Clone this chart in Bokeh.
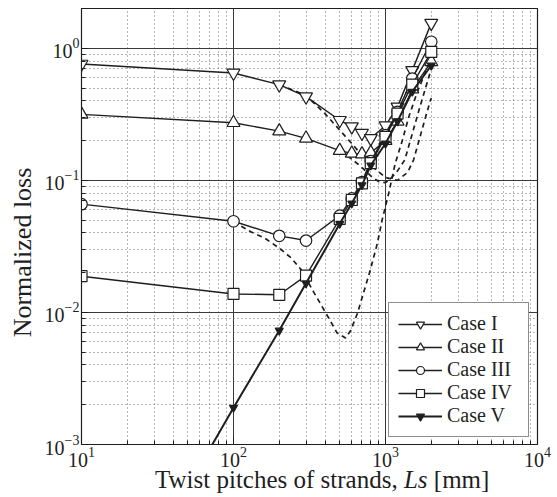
from bokeh.plotting import figure
from bokeh.models import Legend, LegendItem, FixedTicker, Div
from bokeh.layouts import column
from bokeh.embed import file_html
from bokeh.resources import INLINE

# ---- data ----
ls_mm = [10, 100, 200, 300, 500, 600, 700, 800, 1000, 1200, 1500, 2000]
case1 = [0.76, 0.65, 0.53, 0.43, 0.285, 0.255, 0.228, 0.208, 0.26, 0.36, 0.68, 1.55]
case2 = [0.316, 0.273, 0.236, 0.208, 0.168, 0.160, 0.158, 0.162, 0.20, 0.28, 0.49, 0.79]
case3 = [0.066, 0.049, 0.038, 0.035, 0.054, 0.073, 0.097, 0.14, 0.22, 0.33, 0.59, 1.12]
case4 = [0.0188, 0.0138, 0.0136, 0.019, 0.051, 0.071, 0.095, 0.135, 0.213, 0.32, 0.53, 0.94]
case5 = [1.9e-5, 0.0019, 0.0073, 0.0166, 0.047, 0.067, 0.092, 0.13, 0.19, 0.28, 0.47, 0.74]

dash1_x = [200, 300, 400, 500, 600, 700, 800, 1000, 1200, 1400, 1530, 1700, 1890, 2000]
dash1_y = [0.53, 0.44, 0.32, 0.24, 0.19, 0.155, 0.13, 0.105, 0.10, 0.115, 0.143, 0.22, 0.34, 0.42]
dash2_x = [500, 600, 700, 800, 900, 1000, 1100, 1200, 1340, 1500, 1660, 2000]
dash2_y = [0.165, 0.145, 0.125, 0.108, 0.098, 0.096, 0.105, 0.118, 0.143, 0.225, 0.34, 0.70]
dash3_x = [100, 130, 160, 200, 240, 280, 340, 420, 480, 546, 590, 655, 716, 794, 885, 950,
           1050, 1160, 1290, 1420, 1600, 2000]
dash3_y = [0.0486, 0.0408, 0.0366, 0.0307, 0.0258, 0.0209, 0.014, 0.0092, 0.007, 0.0064,
           0.0073, 0.0099, 0.014, 0.0209, 0.0335, 0.05, 0.08, 0.135, 0.2, 0.3, 0.45, 0.85]

labels = ["Case I", "Case II", "Case III", "Case IV", "Case V"]
x_title_plain = "Twist pitches of strands,"
x_title_italic = "Ls"
x_title_unit = "[mm]"
y_title = "Normalized loss"

x_major = [10, 100, 1000, 10000]
x_minor = [m * d for d in (10, 100, 1000) for m in range(2, 10)]
y_major = [0.001, 0.01, 0.1, 1.0]
y_minor = [m * d for d in (0.001, 0.01, 0.1, 1.0) for m in range(2, 10)]

SERIF = "Liberation Serif"
INK = "#1e1e1e"

p = figure(width=556, height=471,
           min_border_left=81, min_border_right=19, min_border_top=8, min_border_bottom=27,
           x_axis_type="log", y_axis_type="log",
           x_range=(10, 1e4), y_range=(1e-3, 2.0),
           output_backend="svg", toolbar_location=None)

p.outline_line_color = INK
p.outline_line_width = 1.2
p.background_fill_color = "white"
p.border_fill_color = "white"

for ax, maj, mnr in ((p.xaxis[0], x_major, x_minor), (p.yaxis[0], y_major, y_minor)):
    ax.ticker = FixedTicker(ticks=maj, minor_ticks=mnr)
    ax.major_label_text_font = SERIF
    ax.major_label_text_font_size = "20px"
    ax.major_label_text_color = INK
    ax.axis_line_color = INK
    ax.major_tick_in = 7
    ax.major_tick_out = 0
    ax.minor_tick_in = 4
    ax.minor_tick_out = 0
    ax.major_tick_line_color = INK
    ax.minor_tick_line_color = INK
    ax.major_label_standoff = 2

# trailing no-break spaces shift the rotated title down, as in the reference
p.yaxis.axis_label = y_title + "\u00a0" * 8
p.yaxis.axis_label_text_font = SERIF
p.yaxis.axis_label_text_font_size = "26px"
p.yaxis.axis_label_text_font_style = "normal"
p.yaxis.axis_label_text_color = INK
p.yaxis.axis_label_standoff = 5
p.yaxis.major_label_standoff = 2

for g, maj, mnr in ((p.xgrid[0], x_major, x_minor), (p.ygrid[0], y_major, y_minor)):
    g.ticker = FixedTicker(ticks=maj, minor_ticks=mnr)
    g.grid_line_color = "#3a3a3a"
    g.grid_line_width = 1
    g.minor_grid_line_color = "#6a6a6a"
    g.minor_grid_line_dash = "1 3"
    g.minor_grid_line_width = 1

# dashed curves
for dx, dy in ((dash1_x, dash1_y), (dash2_x, dash2_y), (dash3_x, dash3_y)):
    p.line(dx, dy, line_color=INK, line_width=1.7, line_dash="5 4")

series = [case1, case2, case3, case4, case5]
markers = ["inverted_triangle", "triangle", "circle", "square", "inverted_triangle"]
sizes = [13, 13, 11.5, 11, 8]
items = []
for i, (ys, mk, sz) in enumerate(zip(series, markers, sizes)):
    lw = 2.0 if i == 4 else 1.4
    ln = p.line(ls_mm, ys, line_color=INK, line_width=lw)
    fill = INK if i == 4 else "white"
    sc = p.scatter(ls_mm, ys, marker=mk, size=sz, line_color=INK, line_width=1.2, fill_color=fill)
    items.append(LegendItem(label=labels[i], renderers=[ln, sc]))

legend = Legend(items=items, location=(307, 7), margin=0, padding=9, spacing=0,
                glyph_width=44, glyph_height=20, label_height=20, label_standoff=5,
                label_width=72,
                label_text_font=SERIF, label_text_font_size="20px", label_text_color=INK,
                border_line_color=INK, border_line_width=1.2,
                background_fill_color="white", background_fill_alpha=1.0)
p.add_layout(legend, "center")

# x axis title (with italic "Ls") as real HTML text below the plot
x_title_html = (
    f'<div style="margin-left:155px; margin-top:-4px; white-space:nowrap; '
    f'font-family:\'{SERIF}\'; font-size:25px; line-height:26px; color:{INK};">'
    f'{x_title_plain} <i>{x_title_italic}</i> {x_title_unit}</div>'
)
xt = Div(text=x_title_html, width=556, height=25, margin=(0, 0, 0, 0))

layout = column(p, xt, spacing=0)

open("out.html", "w").write(file_html(layout, INLINE))
